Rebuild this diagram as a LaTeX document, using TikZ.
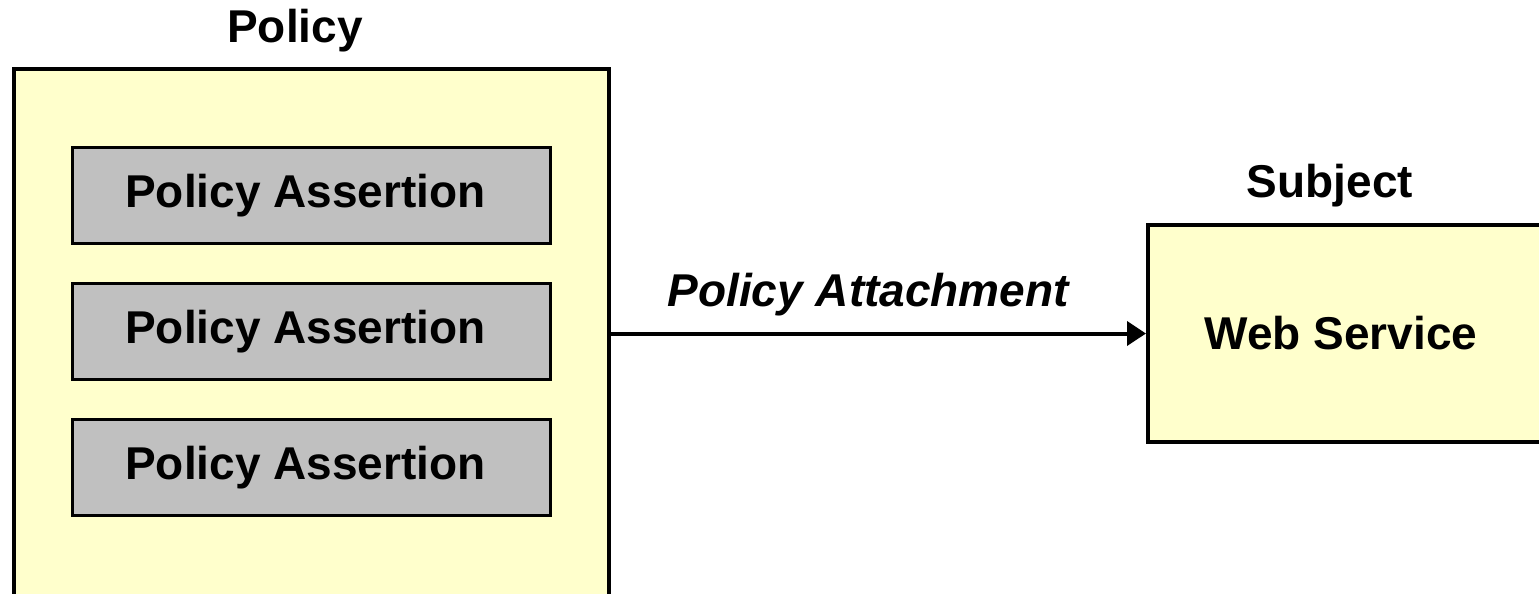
\documentclass[tikz,border=0pt]{standalone}
\usepackage{fontspec}
\setmainfont{Liberation Sans}
\usepackage{tikz}
\usetikzlibrary{arrows.meta}
\usetikzlibrary{calc}
\definecolor{paleyellow}{HTML}{FFFFCC}
\definecolor{assertgray}{HTML}{C0C0C0}
\newcommand\lbl{\fontsize{46}{55}\selectfont\bfseries}
\newcommand\assertion{\hspace*{-11pt}Policy Assertion}
\tikzstyle{outer}=[draw,line width=4pt,fill=paleyellow,inner sep=0pt]
\tikzstyle{assert}=[draw,line width=3pt,fill=assertgray,minimum width=478pt,minimum height=96pt,font=\lbl]
\tikzstyle{title}=[font=\lbl]
\tikzstyle{attach}=[line width=4pt,-{Triangle[length=19pt,width=24pt]}]

\begin{document}
\begin{tikzpicture}[x=1pt,y=-1pt]
	\useasboundingbox (0,0) rectangle (1539,594);
	\clip (0,0) rectangle (1539,594);
	\node[outer,minimum width=595pt,minimum height=560pt,anchor=north west] (policy) at (11.5,67.5) {};
	\node[outer,minimum width=420pt,minimum height=217pt,anchor=north west,font=\lbl] (subject) at (1146,223) {\hspace*{-34pt}Web Service};
	%
	\node[assert] (a1) at (311,195.5) {\assertion};
	\node[assert] (a2) at (311,331.5) {\assertion};
	\node[assert] (a3) at (311,467.5) {\assertion};
	%
	\node[title] (pt) at (295,31) {Policy};
	\node[title] (st) at (1330,186) {Subject};
%
	\draw[attach] (policy.east |- subject.west) --node[above=12pt,font=\lbl\itshape,xshift=-10pt]{Policy Attachment} (subject.west);
\end{tikzpicture}
\end{document}
